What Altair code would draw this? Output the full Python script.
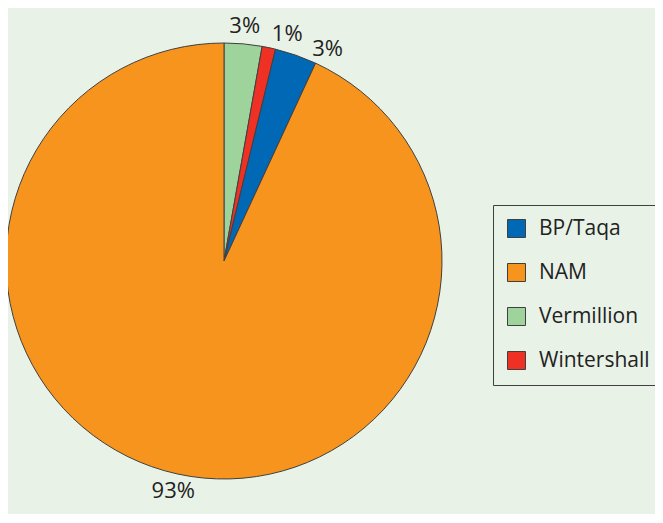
import altair as alt
import pandas as pd
import numpy as np

companies = ["Vermillion", "Wintershall", "BP/Taqa", "NAM"]
shares = [2.8, 1.0, 3.1, 93.1]
labels = ["3%", "1%", "3%", "93%"]
legend_order = ["BP/Taqa", "NAM", "Vermillion", "Wintershall"]
colors = ["#0068b4", "#f7941d", "#9fd39c", "#ee3124"]

df = pd.DataFrame({
    "company": companies,
    "share": shares,
    "label": labels,
    "order": list(range(len(companies))),
})

# label angles: slice mid-angles, nudged clockwise so neighbouring labels don't collide
total = df["share"].sum()
ends = df["share"].cumsum() / total * 360.0
mids = (ends - df["share"] / total * 360.0 / 2).to_numpy()
min_gap = 10.5
label_theta = []
for m in mids:
    if label_theta and m - label_theta[-1] < min_gap:
        m = label_theta[-1] + min_gap
    label_theta.append(m)
df["label_theta"] = label_theta

arcs = alt.Chart(df).mark_arc(outerRadius=218, stroke="#404040", strokeWidth=1).encode(
    theta=alt.Theta("share:Q", stack=True),
    order=alt.Order("order:Q", sort="ascending"),
    color=alt.Color(
        "company:N",
        scale=alt.Scale(domain=legend_order, range=colors),
        legend=alt.Legend(
            title=None,
            orient="none",
            legendX=485,
            legendY=197,
            symbolType="square",
            symbolSize=324,
            symbolStrokeColor="#404040",
            symbolStrokeWidth=1,
            labelFont="Open Sans",
            labelFontSize=21,
            labelColor="#222222",
            rowPadding=21,
            padding=13,
            strokeColor="#404040",
            fillColor="#e9f2e7",
            labelLimit=300,
            symbolOffset=0,
            labelOffset=12,
        ),
    ),
)

text = alt.Chart(df).mark_text(radius=236, font="Open Sans", fontSize=22, color="#222222").encode(
    theta=alt.Theta("label_theta:Q", stack=None,
                    scale=alt.Scale(domain=[0, 360], range=[0, 2 * np.pi])),
    text="label:N",
)

chart = (arcs + text).resolve_scale(theta="independent").properties(
    width=432,
    height=506,
    background="#e9f2e7",
    padding={"left": 0, "top": 0, "right": 215, "bottom": 0},
    autosize=alt.AutoSizeParams(type="none"),
).configure_view(stroke=None)

chart.save("out.html", embed_options={"renderer": "svg", "actions": False})
